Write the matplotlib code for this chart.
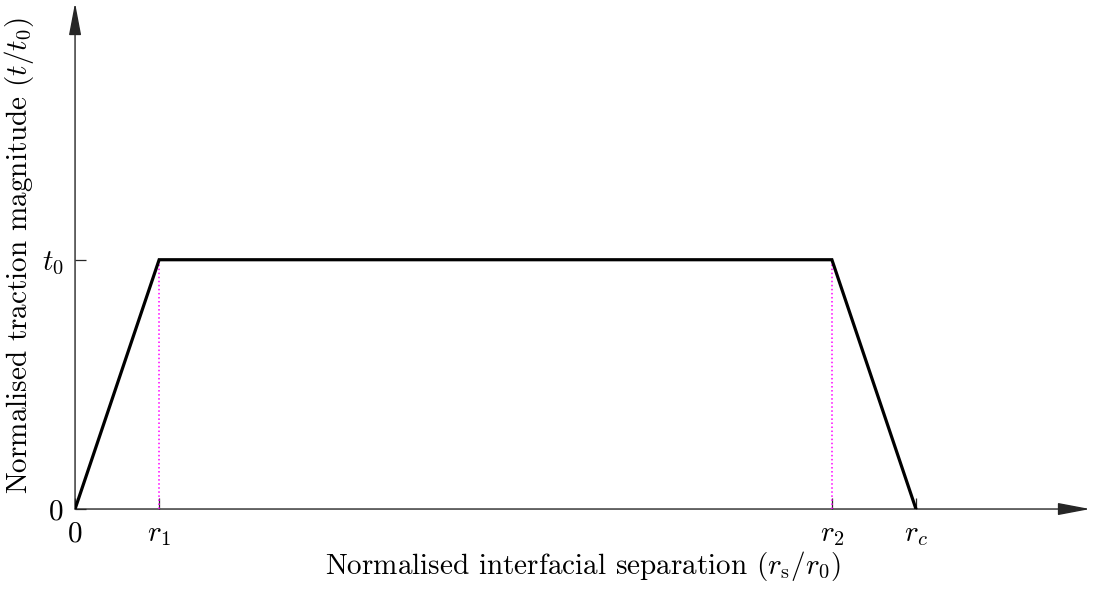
import matplotlib.pyplot as plt
from matplotlib.patches import FancyArrowPatch

plt.rcParams['font.family'] = 'serif'
plt.rcParams['font.serif'] = ['cmr10']
plt.rcParams['mathtext.fontset'] = 'cm'
plt.rcParams['axes.unicode_minus'] = False

# trapezoidal traction-separation law (normalised)
sep = [0, 1, 9, 10]
traction = [0, 1, 1, 0]
guide_x = [1, 9]
xtick_pos = [0, 1, 9, 10]
xtick_labels = ['0', '$r_1$', '$r_2$', '$r_c$']
ytick_pos = [0, 1]
ytick_labels = ['0', '$t_0$']

fig = plt.figure(figsize=(10.94, 5.91), dpi=100)
ax = fig.add_axes([0.0686, 0.1387, 0.9278, 0.8563])
ax.set_xlim(0, 12.07)
ax.set_ylim(0, 2.03)

for s in ax.spines.values():
    s.set_visible(False)

# dotted guides from the axis up to the plateau
for gx in guide_x:
    ax.plot([gx, gx], [0, 1], color='#ff00ff', ls=':', lw=1.1, zorder=2)

ax.plot(sep, traction, color='black', lw=2.3, solid_joinstyle='miter', zorder=3)

# axis lines with arrow heads
for end in [(1, 0), (0, 1)]:
    arr = FancyArrowPatch((0, 0), end, transform=ax.transAxes,
                          arrowstyle='-|>,head_length=20,head_width=3.8',
                          mutation_scale=1, color='#262626', lw=1.0,
                          shrinkA=0, shrinkB=0, clip_on=False, zorder=1)
    ax.add_patch(arr)

ax.set_xticks(xtick_pos)
ax.set_xticklabels(xtick_labels)
ax.set_yticks(ytick_pos)
ax.set_yticklabels(ytick_labels)
ax.tick_params(direction='in', length=8, width=0.9, color='#262626',
               labelsize=21)
ax.tick_params(axis='x', pad=9)
ax.tick_params(axis='y', pad=8)

ax.set_xlabel(r'Normalised interfacial separation ($r_\mathrm{s}/r_0$)',
              fontsize=21, labelpad=1)
ax.set_ylabel(r'Normalised traction magnitude ($t/t_0$)', fontsize=21,
              labelpad=4)

fig.savefig('out.png', dpi=100)
